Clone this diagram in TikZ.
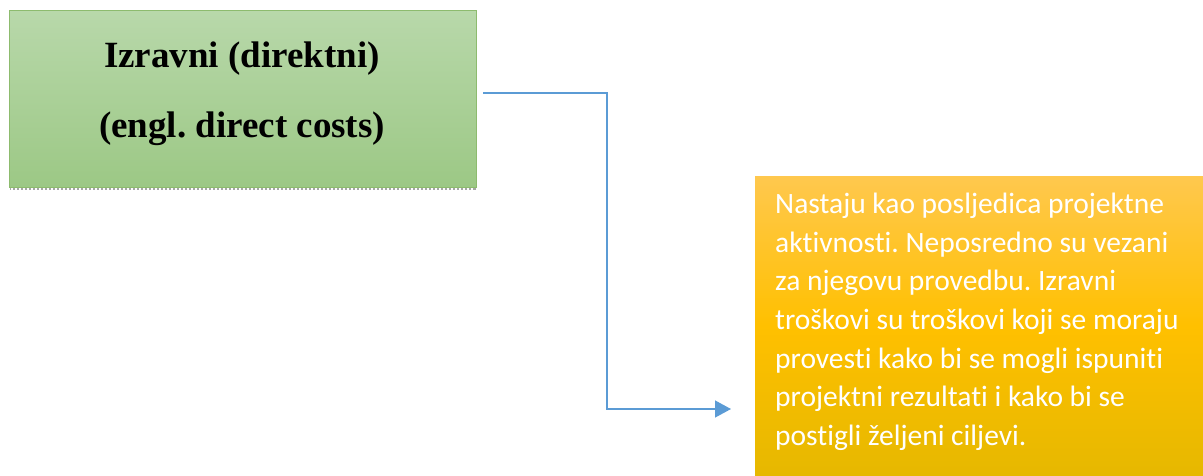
\documentclass[tikz,border=0pt]{standalone}
\usepackage{fontspec}
\setmainfont{Liberation Serif}
\newfontfamily\calib[Ligatures=NoCommon]{Carlito}
\usetikzlibrary{arrows.meta}
\definecolor{gtop}{HTML}{B8D8AA}
\definecolor{gbot}{HTML}{9CC885}
\definecolor{gborder}{HTML}{8DBB6E}
\definecolor{otop}{HTML}{FFC84E}
\definecolor{omid}{HTML}{FFC000}
\definecolor{obot}{HTML}{E6B800}
\definecolor{conn}{HTML}{5B9BD5}
\frenchspacing
\tikzset{
  greenbox/.style={draw=gborder, line width=1pt, top color=gtop, bottom color=gbot, minimum width=467pt, minimum height=177pt, inner sep=0pt, anchor=north west},
  orangebox/.style={top color=otop, bottom color=obot, middle color=omid, minimum width=448pt, minimum height=299pt, inner sep=0pt, anchor=north west},
  connector/.style={draw=conn, line width=1.3pt, -{Triangle[length=16pt,width=17pt]}},
  gtext/.style={font=\bfseries\fontsize{37}{44}\selectfont, anchor=base, inner sep=0pt},
  otext/.style={font=\calib\fontsize{29.5}{36}\selectfont, text=white, anchor=base west, inner sep=0pt},
}
\begin{document}
\begin{tikzpicture}[x=1pt,y=-1pt]
\useasboundingbox (0,0) rectangle (1203,475);
% shadow under green box
\fill[gray!70] (10,187) rectangle (476,190);
\foreach \i in {0,...,115} {\fill[white] (11+\i*4,187.5) rectangle (12.5+\i*4,190);}
\node[greenbox] (g) at (9,10) {};
\node[gtext] (gt1) at (242,67) {Izravni (direktni)};
\node[gtext] (gt2) at (242,137) {(engl. direct costs)};
\node[orangebox] (o) at (755,176) {};
\node[otext] (o1) at (775,213) {Nastaju kao posljedica projektne};
\node[otext] (o2) at (775,252) {aktivnosti. Neposredno su vezani};
\node[otext] (o3) at (775,290) {za njegovu provedbu. Izravni};
\node[otext] (o4) at (775,329) {troškovi su troškovi koji se moraju};
\node[otext] (o5) at (775,368) {provesti kako bi se mogli ispuniti};
\node[otext] (o6) at (775,406) {projektni rezultati i kako bi se};
\node[otext] (o7) at (775,445) {postigli željeni ciljevi.};
\coordinate (s) at (483,93);
\coordinate (e) at (731,409);
\draw[connector] (s) -- (607,93) -- (607,409) -- (e);
\end{tikzpicture}
\end{document}
